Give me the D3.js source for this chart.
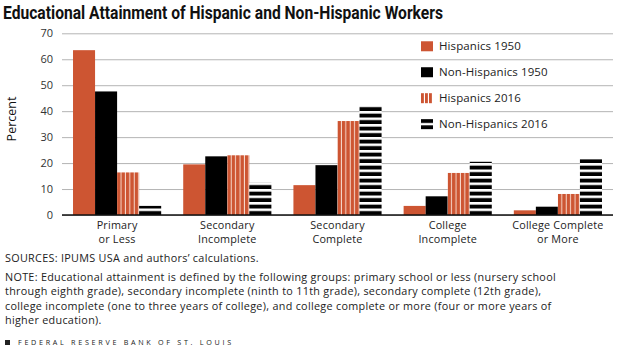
<!DOCTYPE html>
<html>
<head>
<meta charset="utf-8">
<script src="https://cdn.jsdelivr.net/npm/d3@7"></script>
<style>
  body { margin: 0; background: #fff; }
  svg { display: block; font-family: "Open Sans", sans-serif; }
</style>
</head>
<body>
<div id="chart"></div>
<script>
// data
let categories = ["Primary or Less", "Secondary Incomplete", "Secondary Complete", "College Incomplete", "College Complete or More"];
let categoryLines = [["Primary", "or Less"], ["Secondary", "Incomplete"], ["Secondary", "Complete"], ["College", "Incomplete"], ["College Complete", "or More"]];
let seriesNames = ["Hispanics 1950", "Non-Hispanics 1950", "Hispanics 2016", "Non-Hispanics 2016"];
let hispanics1950 = [63.5, 19.5, 11.5, 3.5, 1.8];
let nonHispanics1950 = [47.6, 22.6, 19.2, 7.2, 3.2];
let hispanics2016 = [16.4, 23.0, 36.2, 16.2, 8.1];
let nonHispanics2016 = [3.5, 12.4, 41.9, 20.5, 21.5];
let yTicks = [0, 10, 20, 30, 40, 50, 60, 70];
let noteLines = [
  "NOTE: Educational attainment is defined by the following groups: primary school or less (nursery school",
  "through eighth grade), secondary incomplete (ninth to 11th grade), secondary complete (12th grade),",
  "college incomplete (one to three years of college), and college complete or more (four or more years of",
  "higher education)."
];

let width = 621, height = 351;
let orange = "#cd5532";
let plotTop = 33.3, plotBottom = 215, plotLeft = 62, plotRight = 613;

let svg = d3.select("#chart").append("svg")
  .attr("width", width)
  .attr("height", height);

// patterns for the 2016 series
let defs = svg.append("defs");
let vstripe = defs.append("pattern")
  .attr("id", "vstripe")
  .attr("patternUnits", "objectBoundingBox")
  .attr("patternContentUnits", "objectBoundingBox")
  .attr("width", 0.2).attr("height", 1);
vstripe.append("rect").attr("width", 0.2).attr("height", 1).attr("fill", orange);
vstripe.append("rect").attr("x", 0.155).attr("width", 0.045).attr("height", 1).attr("fill", "#f6d8cc");

let hstripe = defs.append("pattern")
  .attr("id", "hstripe")
  .attr("patternUnits", "userSpaceOnUse")
  .attr("x", 0).attr("y", plotBottom)
  .attr("width", 10).attr("height", 6.5);
hstripe.append("rect").attr("width", 10).attr("height", 6.5).attr("fill", "#fff");
hstripe.append("rect").attr("y", 2.6).attr("width", 10).attr("height", 3.9).attr("fill", "#000");

let hIcon = defs.append("pattern")
  .attr("id", "hstripeIcon")
  .attr("patternUnits", "objectBoundingBox")
  .attr("patternContentUnits", "objectBoundingBox")
  .attr("width", 1).attr("height", 1);
hIcon.append("rect").attr("width", 1).attr("height", 1).attr("fill", "#fff");
hIcon.append("rect").attr("width", 1).attr("height", 0.38).attr("fill", "#000");
hIcon.append("rect").attr("y", 0.62).attr("width", 1).attr("height", 0.38).attr("fill", "#000");

let vIcon = defs.append("pattern")
  .attr("id", "vstripeIcon")
  .attr("patternUnits", "objectBoundingBox")
  .attr("patternContentUnits", "objectBoundingBox")
  .attr("width", 1 / 3).attr("height", 1);
vIcon.append("rect").attr("width", 1 / 3).attr("height", 1).attr("fill", "#fff");
vIcon.append("rect").attr("width", 0.24).attr("height", 1).attr("fill", orange);

let fills = [orange, "#000", "url(#vstripe)", "url(#hstripe)"];
let iconFills = [orange, "#000", "url(#vstripeIcon)", "url(#hstripeIcon)"];

// title
svg.append("text")
  .attr("x", 3).attr("y", 19)
  .attr("textLength", 440).attr("lengthAdjust", "spacingAndGlyphs")
  .style("font-family", "Roboto, sans-serif")
  .style("font-weight", "bold")
  .style("font-size", "18.5px")
  .style("fill", "#111")
  .text("Educational Attainment of Hispanic and Non-Hispanic Workers");

// scales
let x0 = d3.scaleBand()
  .domain(categories)
  .range([plotLeft, plotRight])
  .paddingInner(0.2)
  .paddingOuter(0.1);

let x1 = d3.scaleBand()
  .domain(seriesNames)
  .range([0, x0.bandwidth()]);

let y = d3.scaleLinear()
  .domain([0, 70])
  .range([plotBottom, plotTop]);

// gridlines + y labels
let yAxis = svg.append("g")
  .attr("class", "yaxis")
  .attr("transform", "translate(" + plotLeft + ",0)")
  .call(d3.axisLeft(y).tickValues(yTicks).tickSize(-(plotRight - plotLeft)).tickPadding(9));
yAxis.select(".domain").remove();
yAxis.selectAll(".tick line").attr("stroke", "#b4b4b4").attr("stroke-width", 1);
yAxis.selectAll(".tick text")
  .style("font-size", "11px")
  .style("font-family", "Open Sans, sans-serif")
  .style("fill", "#333");

svg.append("text")
  .attr("transform", "translate(15.5,119) rotate(-90)")
  .attr("text-anchor", "middle")
  .style("font-size", "12.5px")
  .style("fill", "#111")
  .text("Percent");

// bars
let allSeries = [hispanics1950, nonHispanics1950, hispanics2016, nonHispanics2016];
let rows = categories.map(function(c, i){
  return seriesNames.map(function(s, j){
    return {cat: c, series: s, idx: j, value: allSeries[j][i]};
  });
});

svg.append("g")
  .selectAll("g")
  .data(rows)
  .enter().append("g")
    .attr("transform", function(d){ return "translate(" + x0(d[0].cat) + ",0)"; })
  .selectAll("rect")
  .data(function(d){ return d; })
  .enter().append("rect")
    .attr("x", function(d){ return x1(d.series); })
    .attr("y", function(d){ return y(d.value); })
    .attr("width", x1.bandwidth())
    .attr("height", function(d){ return plotBottom - y(d.value); })
    .attr("fill", function(d){ return fills[d.idx]; });

// baseline
svg.append("line")
  .attr("x1", plotLeft).attr("x2", plotRight)
  .attr("y1", plotBottom).attr("y2", plotBottom)
  .attr("stroke", "#111")
  .attr("stroke-width", 1.6);

// category labels, centred under each group (one text per line)
let labelRows = [];
categories.forEach(function(c, i){
  categoryLines[i].forEach(function(t, k){
    labelRows.push({cat: c, line: k, text: t});
  });
});
svg.append("g")
  .selectAll("text")
  .data(labelRows)
  .enter().append("text")
    .attr("x", function(d){ return x0(d.cat) + x0.bandwidth() / 2; })
    .attr("y", function(d){ return 229 + d.line * 14; })
    .attr("text-anchor", "middle")
    .style("font-size", "10.8px")
    .style("letter-spacing", "0.2px")
    .style("fill", "#222")
    .text(function(d){ return d.text; });

// legend
let legend = svg.append("g")
  .attr("transform", "translate(421,0)");
let legendRows = legend.selectAll("g")
  .data(seriesNames)
  .enter().append("g")
    .attr("transform", function(d, i){ return "translate(0," + (y(65 - i * 10)) + ")"; });
legendRows.append("rect")
  .attr("x", 0).attr("y", -5)
  .attr("width", 12).attr("height", 10)
  .attr("fill", function(d, i){ return iconFills[i]; });
legendRows.append("text")
  .attr("x", 18).attr("y", 4.2)
  .style("font-size", "11.5px")
  .style("letter-spacing", "0.1px")
  .style("fill", "#222")
  .text(function(d){ return d; });

// footnotes
svg.append("text")
  .attr("x", 5).attr("y", 262)
  .style("font-size", "10.8px")
  .style("letter-spacing", "0.3px")
  .style("fill", "#222")
  .text("SOURCES: IPUMS USA and authors\u2019 calculations.");

svg.append("g")
  .selectAll("text")
  .data(noteLines)
  .enter().append("text")
    .attr("x", 5)
    .attr("y", function(d, i){ return 281 + i * 14.3; })
    .style("font-size", "10.8px")
    .style("letter-spacing", "0.3px")
    .style("fill", "#222")
    .text(function(d){ return d; });

svg.append("rect")
  .attr("x", 5).attr("y", 340)
  .attr("width", 5).attr("height", 5)
  .attr("fill", "#222");
svg.append("text")
  .attr("x", 18).attr("y", 345)
  .style("font-size", "7.2px")
  .style("letter-spacing", "2.7px")
  .style("fill", "#222")
  .text("FEDERAL RESERVE BANK OF ST. LOUIS");
</script>
</body>
</html>
